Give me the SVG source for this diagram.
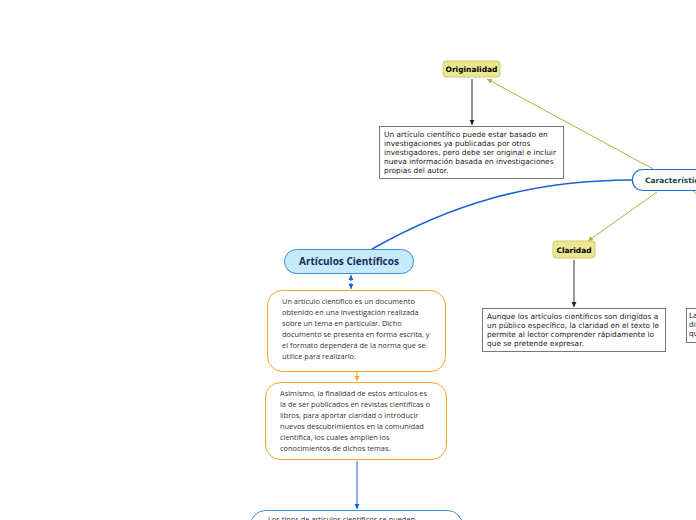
<svg xmlns="http://www.w3.org/2000/svg" width="696" height="520" viewBox="0 0 696 520">
<style>
.v{font-family:"DejaVu Sans",Verdana,sans-serif;font-size:7.4px;fill:#222}
.o{font-family:"Open Sans","Noto Sans",sans-serif;font-size:7.4px;fill:#333}
.yel{fill:#ebe691;stroke:#cfc96a;stroke-width:1}
.gb{fill:#fff;stroke:#777;stroke-width:1}
.ob{fill:#fff;stroke:#f5a623;stroke-width:1}
.lb{fill:#000;font-family:"DejaVu Sans",Verdana,sans-serif;font-size:7.5px;font-weight:bold}
.ol{stroke:#b5ad35;stroke-width:1;fill:none}
</style>
<defs>
<marker id="ak" markerWidth="6" markerHeight="6" refX="5" refY="3" orient="auto"><path d="M0,0.5L5,3L0,5.5z" fill="#222"/></marker>
<marker id="ay" markerWidth="6" markerHeight="6" refX="5" refY="3" orient="auto"><path d="M0,0.5L5,3L0,5.5z" fill="#b5ad35"/></marker>
<marker id="ab" markerWidth="6" markerHeight="6" refX="5" refY="3" orient="auto-start-reverse"><path d="M0,0.5L5,3L0,5.5z" fill="#1a5fd8"/></marker>
<marker id="ao" markerWidth="6" markerHeight="6" refX="5" refY="3" orient="auto"><path d="M0,0.5L5,3L0,5.5z" fill="#f5a623"/></marker>
</defs>
<g id="connectors">
<line x1="472" y1="79" x2="472" y2="125" stroke="#333" marker-end="url(#ak)"/>
<line x1="574" y1="260" x2="574" y2="307" stroke="#333" marker-end="url(#ak)"/>
<line class="ol" x1="653" y1="169" x2="487" y2="79" marker-end="url(#ay)"/>
<line class="ol" x1="657" y1="192" x2="588" y2="241" marker-end="url(#ay)"/>
<line class="ol" x1="693" y1="191" x2="700" y2="197"/>
<path d="M632,180 C530,180 450,205 372,249" stroke="#1a5fd8" stroke-width="1.5" fill="none"/>
<line x1="351" y1="275" x2="351" y2="289" stroke="#1a5fd8" stroke-dasharray="2,2" marker-start="url(#ab)" marker-end="url(#ab)"/>
<line x1="357" y1="372" x2="357" y2="381" stroke="#f5a623" marker-end="url(#ao)"/>
<line x1="357" y1="461" x2="357" y2="509" stroke="#1a5fd8" marker-end="url(#ab)"/>
</g>
<g id="originalidad"><rect class="yel" x="443" y="61" width="57" height="16" rx="3"/><text class="lb" x="471.5" y="72" text-anchor="middle">Originalidad</text></g>
<g id="orig-text"><rect class="gb" x="379.5" y="126.5" width="184" height="52"/>
<text class="v"><tspan x="384" y="137">Un artículo científico puede estar basado en</tspan><tspan x="384" y="146">investigaciones ya publicadas por otros</tspan><tspan x="384" y="155">investigadores, pero debe ser original e incluir</tspan><tspan x="384" y="164">nueva información basada en investigaciones</tspan><tspan x="384" y="173">propias del autor.</tspan></text></g>
<g id="caracteristicas"><rect x="632.5" y="169.5" width="130" height="21" rx="10" fill="#fff" stroke="#1a6fd8" stroke-width="1.2"/><text x="645" y="183" font-family="DejaVu Sans,Verdana,sans-serif" font-size="7.5" font-weight="bold" fill="#1b4a46">Características</text></g>
<g id="claridad"><rect class="yel" x="553" y="241" width="42" height="17" rx="3"/><text class="lb" x="574" y="252.5" text-anchor="middle">Claridad</text></g>
<g id="clar-text"><rect class="gb" x="482.5" y="308.5" width="183" height="43"/>
<text class="v"><tspan x="487" y="319">Aunque los artículos científicos son dirigidos a</tspan><tspan x="487" y="328">un público específico, la claridad en el texto le</tspan><tspan x="487" y="337">permite al lector comprender rápidamente lo</tspan><tspan x="487" y="346">que se pretende expresar.</tspan></text></g>
<g id="right-text"><rect class="gb" x="686.5" y="308.5" width="30" height="34"/><text class="v"><tspan x="689" y="318">La</tspan><tspan x="689" y="327">dis</tspan><tspan x="689" y="336">qu</tspan></text></g>
<g id="articulos"><rect x="284.5" y="249.5" width="129" height="24" rx="12" fill="#c5eafa" stroke="#3a8fd8"/><text x="349" y="265" text-anchor="middle" font-family="Open Sans,Noto Sans,sans-serif" font-size="10" font-weight="bold" fill="#1a2a5a">Artículos Científicos</text></g>
<g id="def"><rect class="ob" x="267.5" y="290.5" width="178" height="81" rx="15"/>
<text class="o"><tspan x="282" y="304">Un artículo científico  es un documento</tspan><tspan x="282" y="315">obtenido en una investigación realizada</tspan><tspan x="282" y="326">sobre un tema en particular. Dicho</tspan><tspan x="282" y="337">documento se presenta en forma escrita, y</tspan><tspan x="282" y="348">el formato dependerá de la norma que se</tspan><tspan x="282" y="359">utilice para realizarlo.</tspan></text></g>
<g id="fin"><rect class="ob" x="265.5" y="382.5" width="181" height="77" rx="15"/>
<text class="o"><tspan x="280" y="396">Asimismo, la finalidad de estos artículos es</tspan><tspan x="280" y="407">la de ser publicados en revistas científicas o</tspan><tspan x="280" y="418">libros, para aportar claridad o introducir</tspan><tspan x="280" y="429">nuevos descubrimientos en la comunidad</tspan><tspan x="280" y="440">científica, los cuales amplíen los</tspan><tspan x="280" y="451">conocimientos de dichos temas.</tspan></text></g>
<g id="tipos"><rect x="250.5" y="510.5" width="212" height="40" rx="15" fill="#fff" stroke="#3a8fd8"/><text class="o" x="268" y="522">Los tipos de artículos científicos se pueden</text></g>
</svg>
